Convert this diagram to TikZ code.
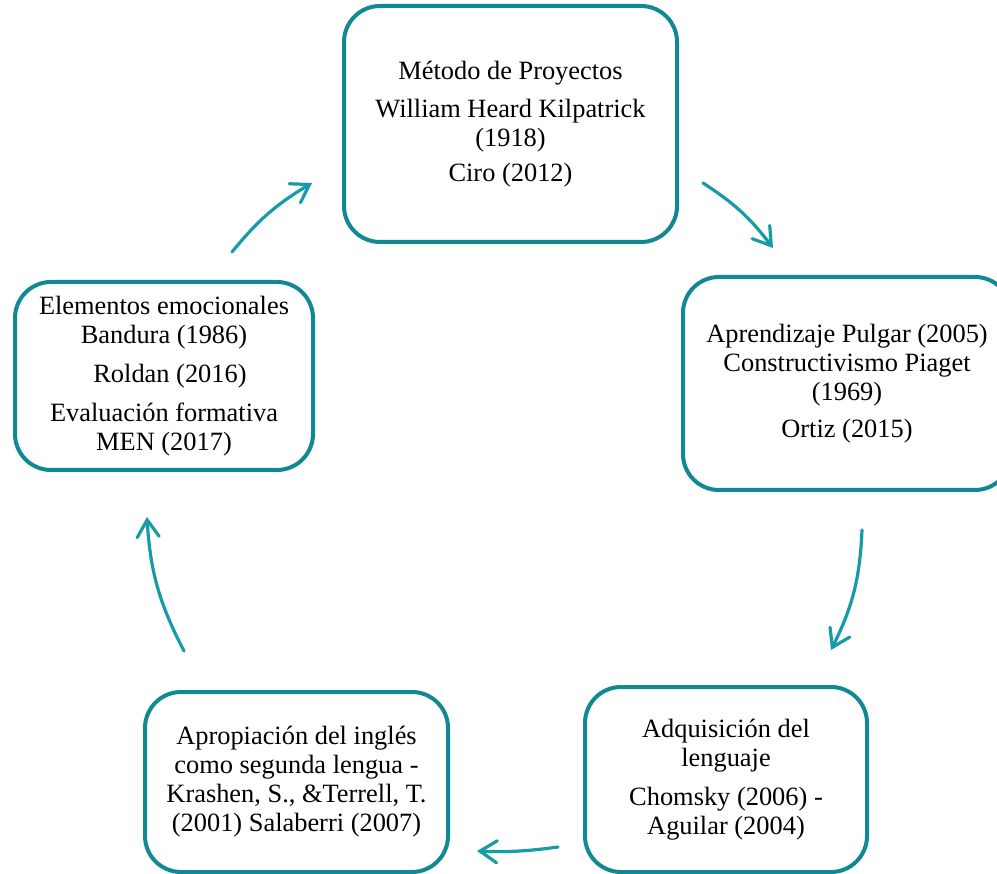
\documentclass[tikz,border=0pt]{standalone}
\usepackage{fontspec}
\setmainfont{Liberation Serif}
\usetikzlibrary{arrows.meta}
\definecolor{boxc}{RGB}{16,137,148}
\definecolor{arrc}{RGB}{22,156,166}
\begin{document}
\begin{tikzpicture}[x=1pt,y=-1pt,
  box/.style={draw=boxc, line width=4pt, rounded corners=36pt, align=center,
    inner sep=0pt, fill=white, font=\fontsize{26.4}{29}\selectfont},
  flow/.style={draw=arrc, line width=3.2pt, line cap=round,
    -{Straight Barb[length=17pt,width=22pt,line cap=round]}}]
\useasboundingbox (0,0) rectangle (997,874);
\fill[white] (0,0) rectangle (997,874);

\node[box, minimum width=333pt, minimum height=236pt] (top) at (510.5,124)
  {Método de Proyectos\\[9pt] William Heard Kilpatrick\\ (1918)\\[6pt] Ciro (2012)};
\node[box, minimum width=328pt, minimum height=213pt] (right) at (847,383.5)
  {Aprendizaje Pulgar (2005)\\ Constructivismo Piaget\\ (1969)\\[8pt] Ortiz (2015)};
\node[box, minimum width=282pt, minimum height=185pt] (bright) at (726,779.5)
  {Adquisición del\\ lenguaje\\[10pt] Chomsky (2006) -\\ Aguilar (2004)};
\node[box, minimum width=303pt, minimum height=180pt] (bleft) at (296.5,782)
  {Apropiación del inglés\\ como segunda lengua -\\ Krashen, S., \&Terrell, T.\\ (2001) Salaberri (2007)};
\node[box, minimum width=298pt, minimum height=188pt] (left) at (164,376)
  {Elementos emocionales\\ Bandura (1986)\\[10pt] \hspace*{12pt}Roldan (2016)\\[10pt] Evaluación formativa\\ MEN (2017)};

\coordinate (a1s) at (703,183);
\coordinate (a1e) at (773,248);
\coordinate (a2s) at (862,530);
\coordinate (a2e) at (831,650);
\coordinate (a3s) at (558,847);
\coordinate (a3e) at (477,851);
\coordinate (a4s) at (184,651);
\coordinate (a4e) at (147,517);
\coordinate (a5s) at (232,252);
\coordinate (a5e) at (312,183);

\draw[flow] (a1s) to[bend left=10] (a1e);
\draw[flow] (a2s) to[bend left=12] (a2e);
\draw[flow] (a3s) to[bend left=5] (a3e);
\draw[flow] (a4s) to[bend left=12] (a4e);
\draw[flow] (a5s) to[bend left=10] (a5e);
\end{tikzpicture}
\end{document}
